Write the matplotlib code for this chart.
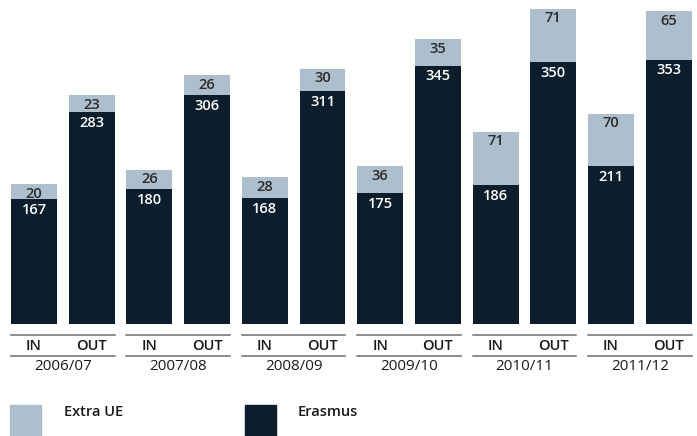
import matplotlib
matplotlib.use("Agg")
import matplotlib.pyplot as plt
from matplotlib.patches import Rectangle

years = ["2006/07", "2007/08", "2008/09", "2009/10", "2010/11", "2011/12"]
in_erasmus = [167, 180, 168, 175, 186, 211]
in_extra = [20, 26, 28, 36, 71, 70]
out_erasmus = [283, 306, 311, 345, 350, 353]
out_extra = [23, 26, 30, 35, 71, 65]

dark = "#0c1e2c"
light = "#adbfcd"
grey = "#6e6e6e"
txt = "#2b2b2b"

plt.rcParams['font.family'] = ['Open Sans', 'DejaVu Sans']

fig = plt.figure(figsize=(6.97, 4.36), dpi=100)
ax = fig.add_axes([0, 0, 1, 1])
ax.set_xlim(-0.589, 11.49)
ax.set_ylim(-149.5, 432.6)
ax.axis('off')

w = 0.797
for g in range(len(years)):
    for k, (er, ex) in enumerate([(in_erasmus[g], in_extra[g]),
                                  (out_erasmus[g], out_extra[g])]):
        x = 2 * g + k
        ax.bar(x, er, width=w, color=dark)
        ax.bar(x, ex, width=w, bottom=er, color=light)
        ax.text(x, er - 14.5, str(er), ha='center', va='center',
                color='white', fontsize=10.5, fontweight='semibold')
        ax.text(x, er + ex - 13, str(ex), ha='center', va='center',
                color=txt, fontsize=10.5, fontweight='semibold')
        ax.text(x, -29.5, ["IN", "OUT"][k], ha='center', va='center',
                color='#1a1a1a', fontsize=10.5, fontweight='semibold')
    x0 = 2 * g - w / 2
    x1 = 2 * g + 1 + w / 2
    ax.plot([x0, x1], [-14.7, -14.7], color=grey, lw=1.1)
    ax.plot([x0, x1], [-42.7, -42.7], color=grey, lw=1.1)
    ax.text(2 * g + 0.5, -56.5, years[g], ha='center', va='center',
            color='#1a1a1a', fontsize=11, fontweight='medium')

# legend
sq_w = 31 / 57.7
ax.add_patch(Rectangle((-0.589 + 10 / 57.7, -149.5), sq_w, 41.5,
                       color=light, clip_on=False))
ax.text(-0.589 + 64 / 57.7, -117, "Extra UE", ha='left', va='center',
        color='#1a1a1a', fontsize=10.5, fontweight='semibold')
ax.add_patch(Rectangle((-0.589 + 245 / 57.7, -149.5), sq_w, 41.5,
                       color=dark, clip_on=False))
ax.text(-0.589 + 298 / 57.7, -117, "Erasmus", ha='left', va='center',
        color='#1a1a1a', fontsize=10.5, fontweight='semibold')

fig.savefig("out.png", dpi=100)
